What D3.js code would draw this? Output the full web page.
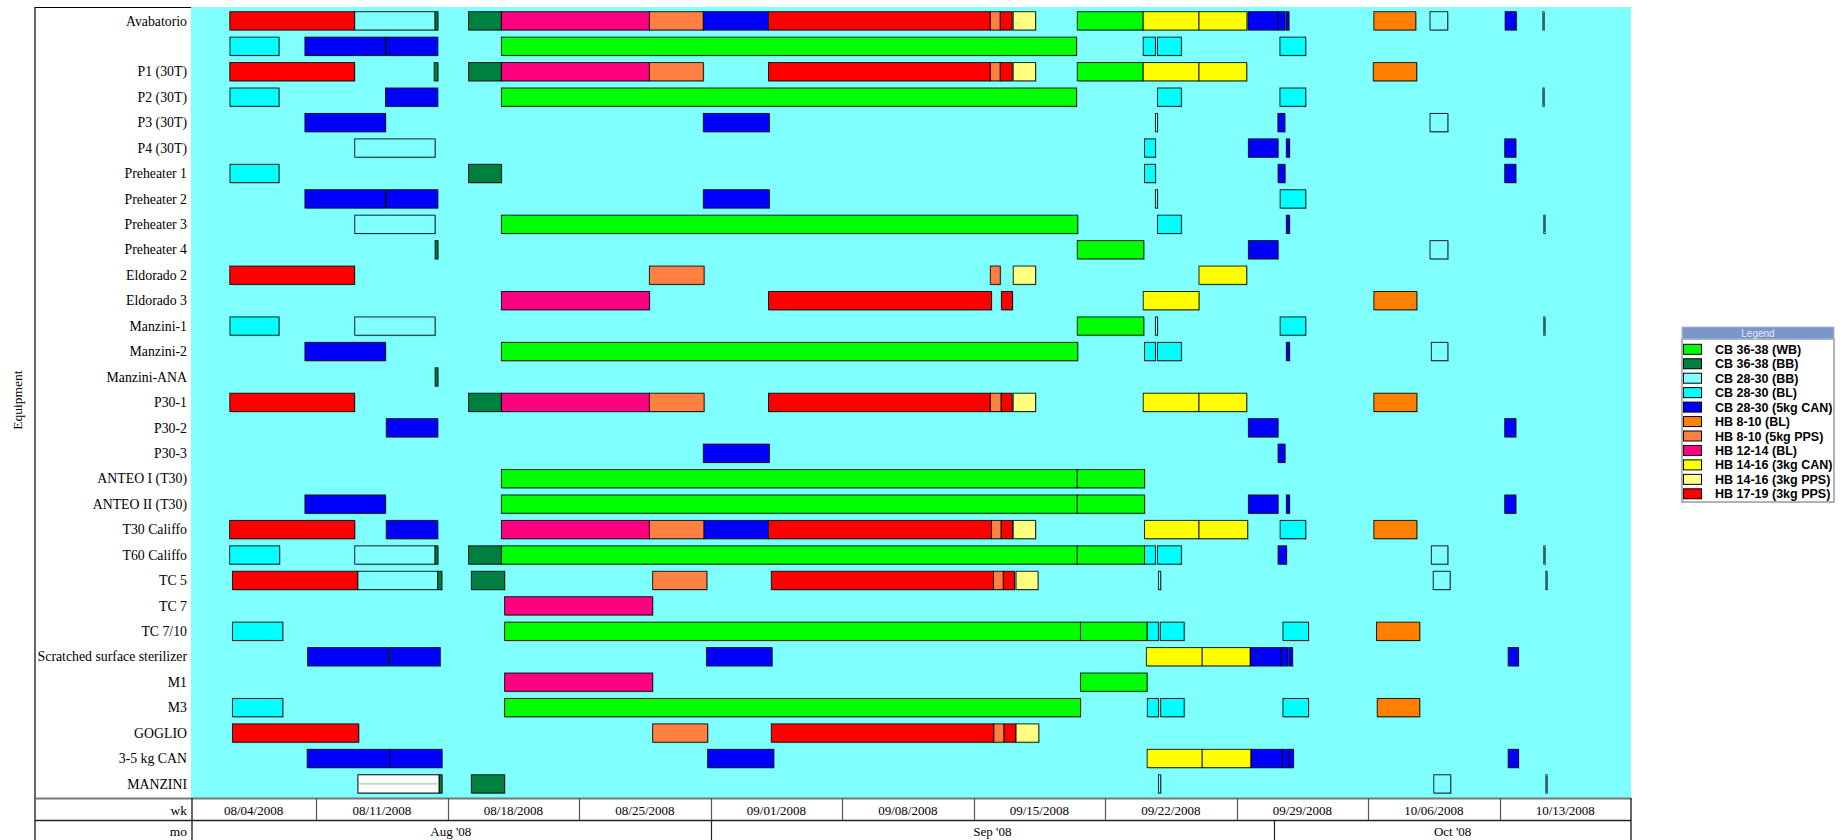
<!DOCTYPE html>
<html>
<head>
<meta charset="utf-8">
<script src="https://cdn.jsdelivr.net/npm/d3@7"></script>
<style>
  body { margin: 0; background: #fff; }
  svg { display: block; }
</style>
</head>
<body>
<svg id="chart" width="1845" height="840"></svg>
<script>
// Equipment rows, top to bottom
const equipment = [
  "Avabatorio", "", "P1 (30T)", "P2 (30T)", "P3 (30T)", "P4 (30T)",
  "Preheater 1", "Preheater 2", "Preheater 3", "Preheater 4",
  "Eldorado 2", "Eldorado 3", "Manzini-1", "Manzini-2", "Manzini-ANA",
  "P30-1", "P30-2", "P30-3", "ANTEO I (T30)", "ANTEO II (T30)",
  "T30 Califfo", "T60 Califfo", "TC 5", "TC 7", "TC 7/10",
  "Scratched surface sterilizer", "M1", "M3", "GOGLIO", "3-5 kg CAN", "MANZINI"
];

// Product runs (legend order)
const products = [
  "CB 36-38 (WB)", "CB 36-38 (BB)", "CB 28-30 (BB)", "CB 28-30 (BL)",
  "CB 28-30 (5kg CAN)", "HB 8-10 (BL)", "HB 8-10 (5kg PPS)", "HB 12-14 (BL)",
  "HB 14-16 (3kg CAN)", "HB 14-16 (3kg PPS)", "HB 17-19 (3kg PPS)"
];
const productColors = [
  "#00ff00", "#008040", "#80ffff", "#00ffff", "#0000ff", "#ff8000",
  "#ff8040", "#ff0080", "#ffff00", "#ffff80", "#ff0000"
];

// Axis labels
const weekLabels = [
  "08/04/2008", "08/11/2008", "08/18/2008", "08/25/2008", "09/01/2008", "09/08/2008",
  "09/15/2008", "09/22/2008", "09/29/2008", "10/06/2008", "10/13/2008"
];
const monthLabels = ["Aug '08", "Sep '08", "Oct '08"];

// Schedule: [equipment row, product, start day, end day]; days counted from 08/04/2008 00:00
const schedule = [
  [0,10,2.40,9.04],[0,2,9.05,13.33],[0,1,13.33,13.48],[0,1,15.11,16.86],[0,7,16.86,24.74],
  [0,6,24.74,27.61],[0,4,27.61,31.08],[0,10,31.08,42.89],[0,6,42.89,43.42],[0,10,43.42,44.05],
  [0,9,44.11,45.30],[0,0,47.52,51.03],[0,8,51.03,54.00],[0,8,54.00,56.55],[0,4,56.61,58.20],
  [0,4,58.20,58.57],[0,4,58.63,58.79],[0,5,63.31,65.54],[0,2,66.30,67.24],[0,4,70.30,70.89],
  [0,2,72.31,72.37],

  [1,3,2.41,5.02],[1,4,6.40,10.69],[1,4,10.73,13.47],[1,0,16.86,47.48],[1,3,51.03,51.68],
  [1,3,51.79,53.06],[1,3,58.31,59.68],

  [2,10,2.40,9.04],[2,1,13.28,13.48],[2,1,15.11,16.86],[2,7,16.86,24.74],[2,6,24.74,27.61],
  [2,10,31.08,42.89],[2,6,42.89,43.42],[2,10,43.42,44.05],[2,9,44.11,45.30],[2,0,47.52,51.03],
  [2,8,51.03,54.00],[2,8,54.00,56.54],[2,5,63.28,65.59],

  [3,3,2.41,5.02],[3,4,10.69,13.47],[3,0,16.86,47.48],[3,3,51.79,53.06],[3,3,58.31,59.68],
  [3,2,72.31,72.37],

  [4,4,6.40,10.69],[4,4,27.61,31.12],[4,2,51.68,51.79],[4,4,58.20,58.57],[4,2,66.30,67.25],

  [5,2,9.05,13.33],[5,3,51.10,51.68],[5,4,56.63,58.21],[5,4,58.65,58.82],[5,4,70.28,70.87],

  [6,3,2.41,5.02],[6,1,15.11,16.86],[6,3,51.10,51.68],[6,4,58.21,58.58],[6,4,70.28,70.87],

  [7,4,6.40,10.69],[7,4,10.73,13.47],[7,4,27.61,31.12],[7,2,51.68,51.79],[7,3,58.32,59.68],

  [8,2,9.05,13.33],[8,0,16.86,47.54],[8,3,51.79,53.06],[8,4,58.65,58.82],[8,2,72.36,72.42],

  [9,1,13.33,13.48],[9,0,47.52,51.06],[9,4,56.63,58.21],[9,2,66.30,67.25],

  [10,10,2.40,9.04],[10,6,24.74,27.65],[10,6,42.89,43.42],[10,9,44.11,45.30],[10,8,54.00,56.54],

  [11,7,16.86,24.74],[11,10,31.08,42.95],[11,10,43.48,44.07],[11,8,51.03,54.00],[11,5,63.31,65.60],

  [12,3,2.41,5.02],[12,2,9.05,13.33],[12,0,47.52,51.06],[12,2,51.68,51.79],[12,3,58.32,59.68],
  [12,2,72.36,72.42],

  [13,4,6.40,10.69],[13,0,16.86,47.54],[13,3,51.10,51.68],[13,3,51.79,53.06],[13,4,58.65,58.82],
  [13,2,66.37,67.25],

  [14,1,13.33,13.48],

  [15,10,2.40,9.04],[15,1,15.11,16.86],[15,7,16.86,24.74],[15,6,24.74,27.65],[15,10,31.08,42.89],
  [15,6,42.89,43.46],[15,10,43.48,44.05],[15,9,44.11,45.30],[15,8,51.03,54.00],[15,8,54.00,56.54],
  [15,5,63.31,65.60],

  [16,4,10.73,13.47],[16,4,56.63,58.21],[16,4,70.28,70.87],

  [17,4,27.61,31.12],[17,4,58.21,58.58],

  [18,0,16.86,47.52],[18,0,47.52,51.10],

  [19,4,6.40,10.69],[19,0,16.86,47.52],[19,0,47.52,51.10],[19,4,56.63,58.21],[19,4,58.65,58.82],
  [19,4,70.28,70.87],

  [20,10,2.39,9.05],[20,4,10.73,13.47],[20,7,16.86,24.74],[20,6,24.74,27.65],[20,4,27.65,31.08],
  [20,10,31.08,42.95],[20,6,42.95,43.46],[20,10,43.48,44.07],[20,9,44.11,45.30],[20,8,51.10,54.00],
  [20,8,54.00,56.59],[20,3,58.32,59.68],[20,5,63.31,65.60],

  [21,3,2.39,5.05],[21,2,9.05,13.33],[21,1,13.33,13.48],[21,1,15.11,16.86],[21,0,16.86,47.52],
  [21,0,47.52,51.10],[21,3,51.10,51.68],[21,3,51.79,53.06],[21,4,58.21,58.66],[21,2,66.37,67.25],
  [21,2,72.36,72.42],

  [22,10,2.54,9.22],[22,2,9.22,13.47],[22,1,13.47,13.69],[22,1,15.26,17.03],[22,6,24.91,27.80],
  [22,10,31.23,43.06],[22,6,43.06,43.58],[22,10,43.58,44.18],[22,9,44.26,45.43],[22,2,51.84,51.96],
  [22,2,66.47,67.37],[22,2,72.47,72.53],

  [23,7,17.03,24.91],

  [24,3,2.54,5.22],[24,0,17.03,47.69],[24,0,47.69,51.24],[24,3,51.25,51.84],[24,3,51.94,53.21],
  [24,3,58.47,59.83],[24,5,63.45,65.75],

  [25,4,6.54,10.84],[25,4,10.90,13.60],[25,4,27.78,31.27],[25,8,51.20,54.17],[25,8,54.17,56.73],
  [25,4,56.73,58.36],[25,4,58.36,58.72],[25,4,58.78,58.98],[25,4,70.46,71.01],

  [26,7,17.03,24.91],[26,0,47.69,51.24],

  [27,3,2.54,5.22],[27,0,17.03,47.69],[27,3,51.25,51.84],[27,3,51.96,53.21],[27,3,58.47,59.83],
  [27,5,63.49,65.75],

  [28,10,2.54,9.26],[28,6,24.91,27.84],[28,10,31.23,43.08],[28,6,43.08,43.62],[28,10,43.62,44.25],
  [28,9,44.26,45.47],

  [29,4,6.52,10.92],[29,4,10.92,13.70],[29,4,27.84,31.36],[29,8,51.24,54.17],[29,8,54.17,56.77],
  [29,4,56.77,58.43],[29,4,58.43,58.82],[29,4,58.82,59.03],[29,4,70.46,71.01],

  [30,1,13.54,13.70],[30,1,15.26,17.03],[30,2,51.84,51.96],[30,2,66.50,67.40],[30,2,72.47,72.53]
];

// Currently selected run (drawn highlighted)
const selectedRuns = [[30,2,9.22,13.54]];

const DAY = 864e5;
const dayZero = Date.UTC(2008, 7, 4);
const toDate = d => new Date(dayZero + d * DAY);
const parseWeek = d3.utcParse("%m/%d/%Y");
const parseMonth = d3.utcParse("%b '%y");

const svg = d3.select("#chart");
const plot = { left: 191, right: 1631, top: 7, bottom: 798 };
const frameLeft = 35;

const x = d3.scaleUtc()
  .domain([new Date(Date.UTC(2008, 7, 4, 8)), new Date(Date.UTC(2008, 9, 20))])
  .range([plot.left, plot.right]);

const y = d3.scaleBand()
  .domain(d3.range(equipment.length))
  .range([8.5, 797]);

const barOffset = 3.2, barH = 18.3;

// plot background
svg.append("rect")
  .attr("x", plot.left).attr("y", plot.top)
  .attr("width", plot.right - plot.left).attr("height", plot.bottom - plot.top)
  .attr("fill", "#80ffff");

// frame of the label column
svg.append("line").attr("x1", frameLeft).attr("x2", plot.left)
  .attr("y1", 7.5).attr("y2", 7.5).attr("stroke", "#000").attr("stroke-width", 1.2);
svg.append("line").attr("x1", frameLeft).attr("x2", frameLeft)
  .attr("y1", 7).attr("y2", 840).attr("stroke", "#000").attr("stroke-width", 1.2);

const serif = "'Liberation Serif', 'Times New Roman', serif";

// equipment labels
svg.append("g").selectAll("text").data(equipment).join("text")
  .attr("x", 187)
  .attr("y", (d, i) => y(i) + y.bandwidth() / 2 - 0.5)
  .attr("dy", "0.35em")
  .attr("text-anchor", "end")
  .attr("font-family", serif)
  .attr("font-size", 13.8)
  .attr("fill", "#000")
  .text(d => d);

svg.append("text")
  .attr("transform", `translate(22,${400}) rotate(-90)`)
  .attr("text-anchor", "middle")
  .attr("font-family", serif)
  .attr("font-size", 13.5)
  .text("Equipment");

// bars
const bars = svg.append("g");
const barX = d => x(toDate(d[2]));
const barW = d => Math.max(x(toDate(d[3])) - x(toDate(d[2])), 0.8);

bars.selectAll("rect.shadow").data(schedule.concat(selectedRuns)).join("rect")
  .attr("class", "shadow")
  .attr("x", d => barX(d) + 1)
  .attr("y", d => y(d[0]) + barOffset + 1)
  .attr("width", barW)
  .attr("height", barH)
  .attr("fill", "rgba(0,60,60,0.28)");

bars.selectAll("rect.run").data(schedule).join("rect")
  .attr("class", "run")
  .attr("x", barX)
  .attr("y", d => y(d[0]) + barOffset)
  .attr("width", barW)
  .attr("height", barH)
  .attr("fill", d => productColors[d[1]])
  .attr("stroke", "#000")
  .attr("stroke-opacity", 0.85)
  .attr("stroke-width", 1);

const sel = bars.selectAll("g.selected").data(selectedRuns).join("g").attr("class", "selected");
sel.append("rect")
  .attr("x", barX)
  .attr("y", d => y(d[0]) + barOffset)
  .attr("width", barW)
  .attr("height", barH)
  .attr("fill", "#fff")
  .attr("stroke", "#000")
  .attr("stroke-width", 1);
sel.append("line")
  .attr("x1", d => barX(d) + 1.5)
  .attr("x2", d => barX(d) + barW(d) - 1.5)
  .attr("y1", d => y(d[0]) + barOffset + barH / 2)
  .attr("y2", d => y(d[0]) + barOffset + barH / 2)
  .attr("stroke", "#009000")
  .attr("stroke-width", 1)
  .attr("stroke-dasharray", "1,1");

// time axis: week row and month row
const axis = svg.append("g");
const rowWk = { top: 798, bottom: 820 };
const rowMo = { top: 820, bottom: 840 };

axis.append("line").attr("x1", frameLeft).attr("x2", plot.right)
  .attr("y1", 798.5).attr("y2", 798.5).attr("stroke", "#777").attr("stroke-width", 2);
axis.append("line").attr("x1", frameLeft).attr("x2", plot.right)
  .attr("y1", 820.5).attr("y2", 820.5).attr("stroke", "#222").attr("stroke-width", 1.3);
axis.append("line").attr("x1", 192).attr("x2", 192)
  .attr("y1", 798).attr("y2", 840).attr("stroke", "#000").attr("stroke-width", 1.2);
axis.append("line").attr("x1", plot.right).attr("x2", plot.right)
  .attr("y1", 798).attr("y2", 840).attr("stroke", "#000").attr("stroke-width", 1.2);

axis.append("text").attr("x", 187).attr("y", 810).attr("dy", "0.35em")
  .attr("text-anchor", "end").attr("font-family", serif).attr("font-size", 13.5).text("wk");
axis.append("text").attr("x", 187).attr("y", 831).attr("dy", "0.35em")
  .attr("text-anchor", "end").attr("font-family", serif).attr("font-size", 13.5).text("mo");

const weeks = weekLabels.map(w => {
  const s = parseWeek(w);
  const e = d3.utcDay.offset(s, 7);
  return { label: w, x0: Math.max(x(s), plot.left), x1: Math.min(x(e), plot.right), start: s };
});
axis.selectAll("line.wk").data(weeks.filter(w => x(w.start) > plot.left + 2)).join("line")
  .attr("class", "wk")
  .attr("x1", w => Math.round(x(w.start)) + 0.5).attr("x2", w => Math.round(x(w.start)) + 0.5)
  .attr("y1", rowWk.top).attr("y2", rowWk.bottom)
  .attr("stroke", "#555").attr("stroke-width", 1.2);
axis.selectAll("text.wk").data(weeks).join("text")
  .attr("class", "wk")
  .attr("x", w => (w.x0 + w.x1) / 2)
  .attr("y", 810).attr("dy", "0.35em")
  .attr("text-anchor", "middle")
  .attr("font-family", serif).attr("font-size", 13)
  .text(w => w.label);

const months = monthLabels.map(m => {
  const s = parseMonth(m);
  const e = d3.utcMonth.offset(s, 1);
  return { label: m, x0: Math.max(x(s), plot.left), x1: Math.min(x(e), plot.right), start: s };
});
axis.selectAll("line.mo").data(months.filter(m => x(m.start) > plot.left + 2)).join("line")
  .attr("class", "mo")
  .attr("x1", m => Math.round(x(m.start)) + 0.5).attr("x2", m => Math.round(x(m.start)) + 0.5)
  .attr("y1", rowMo.top).attr("y2", rowMo.bottom)
  .attr("stroke", "#222").attr("stroke-width", 1.2);
axis.selectAll("text.mo").data(months).join("text")
  .attr("class", "mo")
  .attr("x", m => (m.x0 + m.x1) / 2)
  .attr("y", 831).attr("dy", "0.35em")
  .attr("text-anchor", "middle")
  .attr("font-family", serif).attr("font-size", 13)
  .text(m => m.label);

// legend
const lg = svg.append("g");
const lgX = 1682, lgW = 152, lgTop = 327;
lg.append("rect").attr("x", lgX).attr("y", lgTop + 12).attr("width", lgW).attr("height", 163)
  .attr("fill", "#fff").attr("stroke", "#999").attr("stroke-width", 1.5);
lg.append("rect").attr("x", lgX).attr("y", lgTop).attr("width", lgW).attr("height", 12)
  .attr("fill", "#7b96c8").attr("stroke", "#a9b8d8").attr("stroke-width", 1);
lg.append("text").attr("x", lgX + lgW / 2).attr("y", lgTop + 6).attr("dy", "0.35em")
  .attr("text-anchor", "middle")
  .attr("font-family", "'Liberation Sans', Arial, sans-serif")
  .attr("font-size", 10).attr("fill", "#e6ecf7").text("Legend");

const items = lg.selectAll("g.item").data(products).join("g")
  .attr("class", "item")
  .attr("transform", (d, i) => `translate(${lgX + 1},${349.3 + i * 14.45})`);
items.append("rect").attr("x", 0.5).attr("y", -5).attr("width", 18).attr("height", 10)
  .attr("fill", (d, i) => productColors[i]).attr("stroke", "#000").attr("stroke-width", 1);
items.append("text").attr("x", 32).attr("y", 0).attr("dy", "0.36em")
  .attr("font-family", "'Liberation Sans', Arial, sans-serif")
  .attr("font-weight", "bold").attr("font-size", 12.5).attr("fill", "#000")
  .text(d => d);
</script>
</body>
</html>
